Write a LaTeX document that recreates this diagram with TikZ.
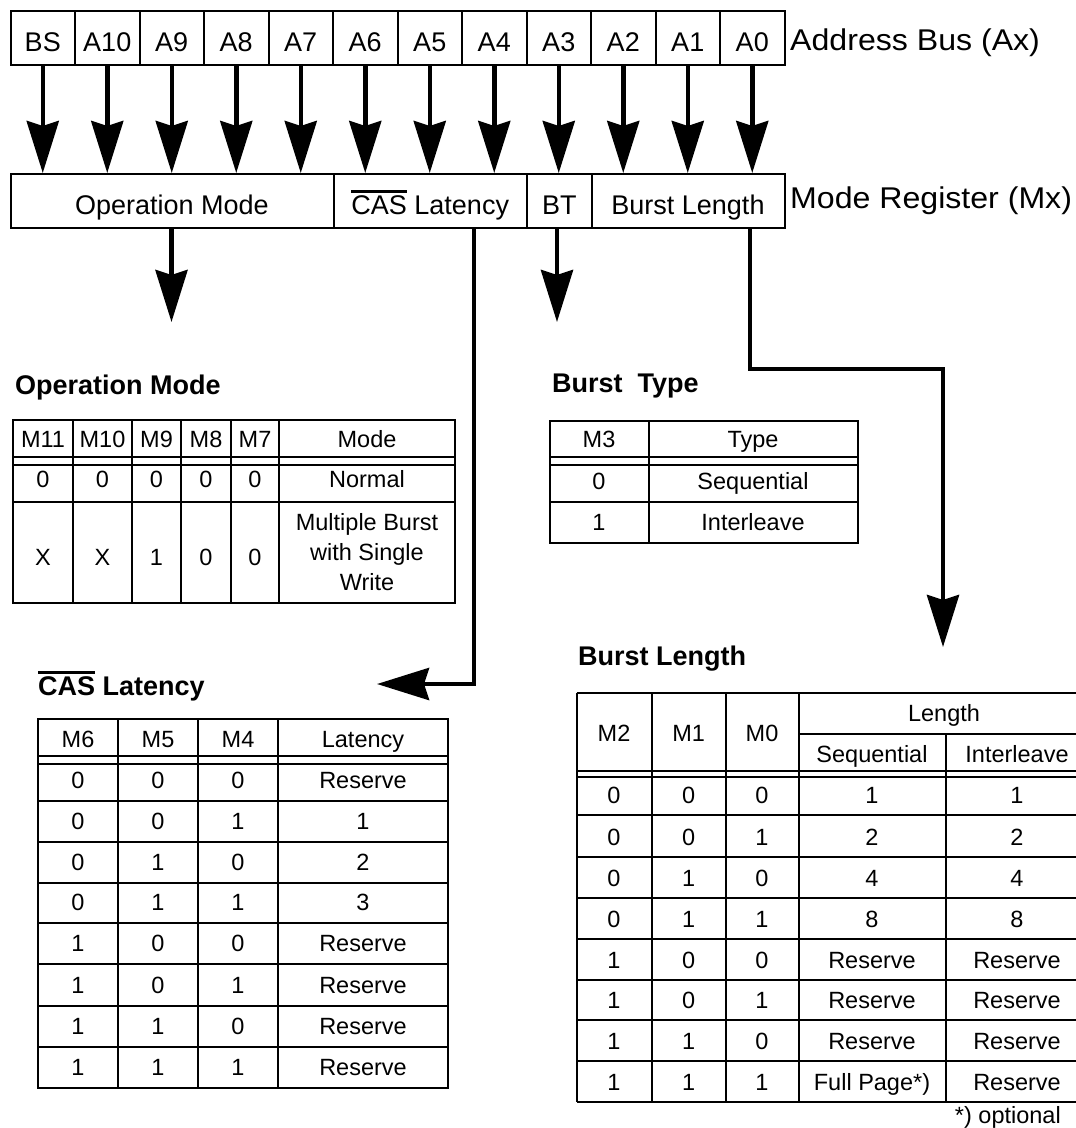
\documentclass[tikz,border=0pt]{standalone}
\usepackage{fontspec}
\usepackage{graphicx}
\setmainfont{Liberation Sans}
\usetikzlibrary{arrows.meta}
\newcommand\ovbar[1]{\vbox{\hrule height 2.8pt\kern 2.6pt\hbox{#1}}}
\begin{document}
\begin{tikzpicture}[x=1pt,y=-1pt,
  cell/.style={draw,line width=2pt,minimum height=54pt,inner sep=0pt,anchor=north west,
    text height=26pt,text depth=0pt,font=\fontsize{27}{32}\selectfont},
  bigarrow/.style={line width=4.5pt,-{Stealth[length=52pt,width=32pt,inset=5pt]}},
  tab/.style={font=\fontsize{23.5}{30}\selectfont,inner sep=0pt,anchor=base},
  ttl/.style={font=\bfseries\fontsize{27}{32}\selectfont,inner sep=0pt,anchor=base west},
  side/.style={font=\fontsize{30}{36}\selectfont,inner sep=0pt,anchor=base west},
  tline/.style={line width=2.2pt}]
\useasboundingbox (0,0) rectangle (1076,1128);

% ---------- mode register ----------
\node[cell,minimum width=323pt] (rOM) at (9.5,173) {Operation Mode};
\node[cell,minimum width=193.5pt] (rCAS) at (332.5,173) {\ovbar{CAS} Latency};
\node[cell,minimum width=64.5pt] (rBT) at (526,173) {BT};
\node[cell,minimum width=193pt] (rBL) at (590.5,173) {Burst Length};

% ---------- address bus ----------
\foreach \lab [count=\i from 0] in {BS,A10,A9,A8,A7,A6,A5,A4,A3,A2,A1,A0}
  \node[cell,minimum width=64.5pt] (c\i) at ({9.5+64.5*\i},10) {\lab};
\foreach \i in {0,...,11}
  \draw[bigarrow] (c\i.south) -- (c\i.south |- rOM.north);

\node[side] (labAB) at (790,50) {\scalebox{1.07}[1]{Address Bus (Ax)}};
\node[side] (labMR) at (790,208) {\scalebox{1.07}[1]{Mode Register (Mx)}};

% ---------- outgoing connectors ----------
\coordinate (omT) at (171.5,322);
\draw[bigarrow] (omT |- rOM.south) -- (omT);
\coordinate (btT) at (557,322);
\draw[bigarrow] (btT |- rBT.south) -- (btT);
\coordinate (casB) at (474,684);
\coordinate (casT) at (377,684);
\draw[bigarrow] (casB |- rCAS.south) -- (casB) -- (casT);
\coordinate (blA) at (750,369);
\coordinate (blT) at (943,647);
\draw[bigarrow] (blA |- rBL.south) -- (blA) -- (blT |- blA) -- (blT);

% ---------- titles ----------
\node[ttl] (tOM) at (15,394) {Operation Mode};
\node[ttl] (tBT) at (552,392) {Burst~~Type};
\node[ttl] (tCAS) at (38,695) {\ovbar{CAS} Latency};
\node[ttl] (tBL) at (578,665) {Burst Length};

% ---------- operation mode table ----------
\draw[tline] (12.7,420) rectangle (455,603);
\foreach \y in {457,465,502} \draw[tline] (12.7,\y) -- (455,\y);
\foreach \x in {73,132,181,231,279} \draw[tline] (\x,420) -- (\x,603);
\foreach \t/\x [count=\i] in {M11/43,M10/102.5,M9/156.5,M8/206,M7/255,Mode/367}
  \node[tab] (omh\i) at (\x,447) {\t};
\foreach \t/\x [count=\i] in {0/43,0/102.5,0/156.5,0/206,0/255,Normal/367}
  \node[tab] (omn\i) at (\x,487) {\t};
\foreach \t/\x [count=\i] in {X/43,X/102.5,1/156.5,0/206,0/255}
  \node[tab] (omm\i) at (\x,565) {\t};
\node[tab,anchor=north,align=center] (omm6) at (367,513) {Multiple Burst\\with Single\\Write};

% ---------- burst type table ----------
\draw[tline] (550,420.7) rectangle (858,542.7);
\foreach \y in {456.7,465,501.7} \draw[tline] (550,\y) -- (858,\y);
\draw[tline] (648.6,420.7) -- (648.6,542.7);
\node[tab] (bth1) at (599,447) {M3};
\node[tab] (bth2) at (753,447) {Type};
\node[tab] (bt01) at (599,489) {0};
\node[tab] (bt02) at (753,489) {Sequential};
\node[tab] (bt11) at (599,530) {1};
\node[tab] (bt12) at (753,530) {Interleave};

% ---------- CAS latency table ----------
\draw[tline] (38,719) rectangle (448,1087.7);
\foreach \y in {756,764,800.7,841.7,882.7,923.3,964.3,1005.7,1046.7}
  \draw[tline] (38,\y) -- (448,\y);
\foreach \x in {118,198,278} \draw[tline] (\x,719) -- (\x,1087.7);
\foreach \t/\x [count=\i] in {M6/78,M5/158,M4/238,Latency/363}
  \node[tab] (cash\i) at (\x,747.7) {\t};
\foreach \y/\a/\b/\c/\d [count=\i] in {788.2/0/0/0/Reserve,829.2/0/0/1/1,870.2/0/1/0/2,910.8/0/1/1/3,
    951.8/1/0/0/Reserve,993.2/1/0/1/Reserve,1034.2/1/1/0/Reserve,1075.2/1/1/1/Reserve}{
  \node[tab] (cas\i-a) at (78,\y) {\a};
  \node[tab] (cas\i-b) at (158,\y) {\b};
  \node[tab] (cas\i-c) at (238,\y) {\c};
  \node[tab] (cas\i-d) at (363,\y) {\d};
}

% ---------- burst length table ----------
\foreach \y in {693.3,770.7,777.3,815,856.7,897.7,939,980,1020,1060.7,1102.3}
  \draw[tline] (576.7,\y) -- (1076,\y);
\draw[tline] (799,734) -- (1076,734);
\foreach \x in {576.7,651.7,725.7,799} \draw[tline] (\x,693.3) -- (\x,1102.3);
\draw[tline] (945.7,734) -- (945.7,1102.3);
\node[tab] (blh1) at (614,741.7) {M2};
\node[tab] (blh2) at (688.7,741.7) {M1};
\node[tab] (blh3) at (762,741.7) {M0};
\node[tab] (blh4) at (944,721) {Length};
\node[tab] (blh5) at (872,762.7) {Sequential};
\node[tab] (blh6) at (1017,762.7) {Interleave};
\foreach \y/\a/\b/\c/\d/\e [count=\i] in {803.5/0/0/0/1/1,845.2/0/0/1/2/2,886.2/0/1/0/4/4,927.5/0/1/1/8/8,
    968.5/1/0/0/Reserve/Reserve,1008.5/1/0/1/Reserve/Reserve,1049.2/1/1/0/Reserve/Reserve,
    1090.8/1/1/1/Full Page*)/Reserve}{
  \node[tab] (bl\i-a) at (614,\y) {\a};
  \node[tab] (bl\i-b) at (688.7,\y) {\b};
  \node[tab] (bl\i-c) at (762,\y) {\c};
  \node[tab] (bl\i-d) at (872,\y) {\d};
  \node[tab] (bl\i-e) at (1017,\y) {\e};
}
\node[tab,anchor=base east] (opt) at (1061,1123) {*) optional};
\end{tikzpicture}
\end{document}
